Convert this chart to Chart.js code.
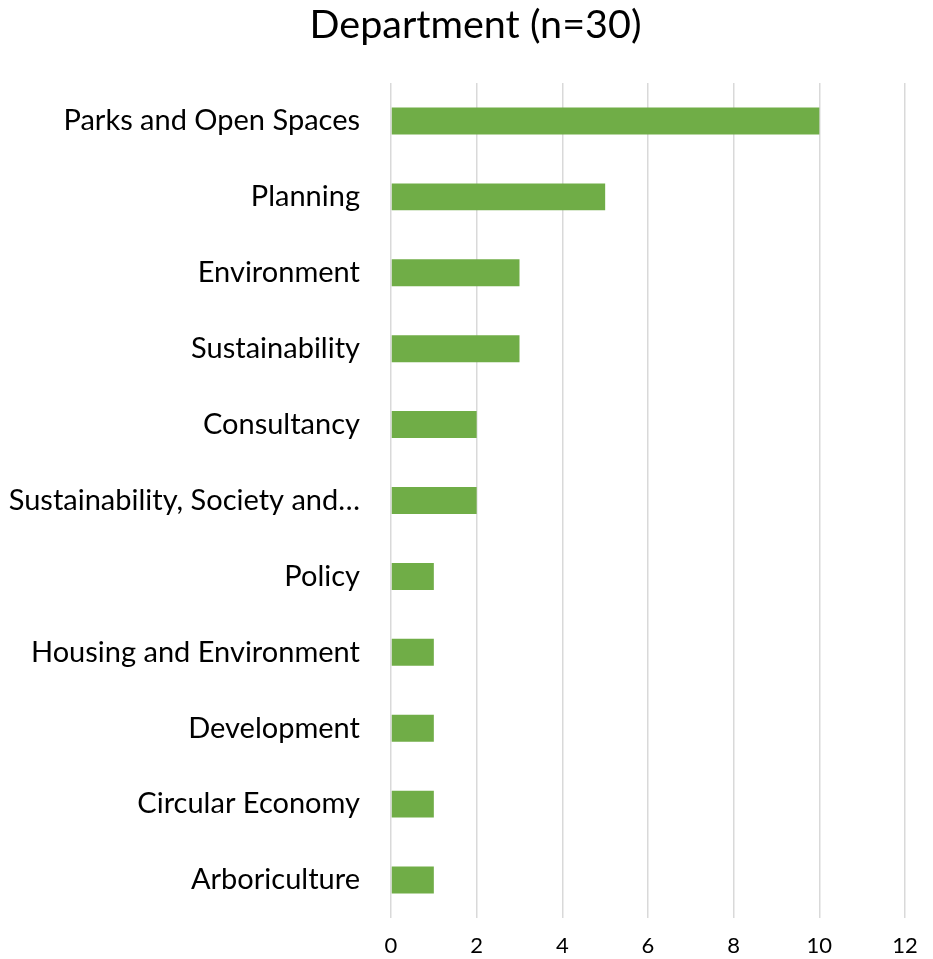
<!DOCTYPE html>
<html>
<head>
<meta charset="utf-8">
<script src="https://cdn.jsdelivr.net/npm/chart.js@4"></script>
<style>
  html, body { margin: 0; padding: 0; background: #fff; }
  #wrap { width: 933px; height: 959px; position: relative; }
</style>
</head>
<body>
<div id="wrap"><canvas id="c"></canvas></div>
<script>
const categories = [
  "Parks and Open Spaces",
  "Planning",
  "Environment",
  "Sustainability",
  "Consultancy",
  "Sustainability, Society and…",
  "Policy",
  "Housing and Environment",
  "Development",
  "Circular Economy",
  "Arboriculture"
];
const counts = [10, 5, 3, 3, 2, 2, 1, 1, 1, 1, 1];
const xTicks = [0, 2, 4, 6, 8, 10, 12];
const titleText = "Department (n=30)";

const FONT = "Lato, 'Open Sans', sans-serif";

new Chart(document.getElementById('c'), {
  type: 'bar',
  data: {
    labels: categories,
    datasets: [{
      data: counts,
      backgroundColor: '#70AD47',
      borderWidth: 0,
      barPercentage: 0.355,
      categoryPercentage: 1
    }]
  },
  options: {
    indexAxis: 'y',
    responsive: true,
    maintainAspectRatio: false,
    animation: false,
    layout: { padding: { left: 0, right: 28, top: 0, bottom: 0 } },
    plugins: {
      legend: { display: false },
      tooltip: { enabled: false },
      title: {
        display: true,
        text: titleText,
        color: '#000',
        font: { family: FONT, size: 39.5, weight: 'normal', lineHeight: 1.2 },
        padding: { top: 2, bottom: 33.6 }
      }
    },
    scales: {
      x: {
        min: xTicks[0],
        max: xTicks[xTicks.length - 1],
        afterBuildTicks: (s) => { s.ticks = xTicks.map(v => ({ value: v })); },
        afterFit: (s) => { s.height = 41; },
        grid: { color: '#d9d9d9', lineWidth: 1.5, drawTicks: false },
        border: { display: false },
        ticks: {
          color: '#000',
          padding: 15,
          font: { family: FONT, size: 22 }
        }
      },
      y: {
        afterFit: (s) => { s.width = 391; },
        grid: {
          display: true,
          drawOnChartArea: false,
          drawTicks: true,
          tickLength: 31,
          tickColor: 'rgba(0,0,0,0)',
          color: 'rgba(0,0,0,0)'
        },
        border: { display: false },
        ticks: {
          color: '#000',
          padding: 0,
          autoSkip: false,
          font: { family: FONT, size: 29 }
        }
      }
    }
  },
  plugins: [{
    id: 'titleShift',
    afterLayout(chart) {
      const t = chart.titleBlock;
      if (t) { t.left += 23; t.right += 23; }
    }
  }]
});
</script>
</body>
</html>
